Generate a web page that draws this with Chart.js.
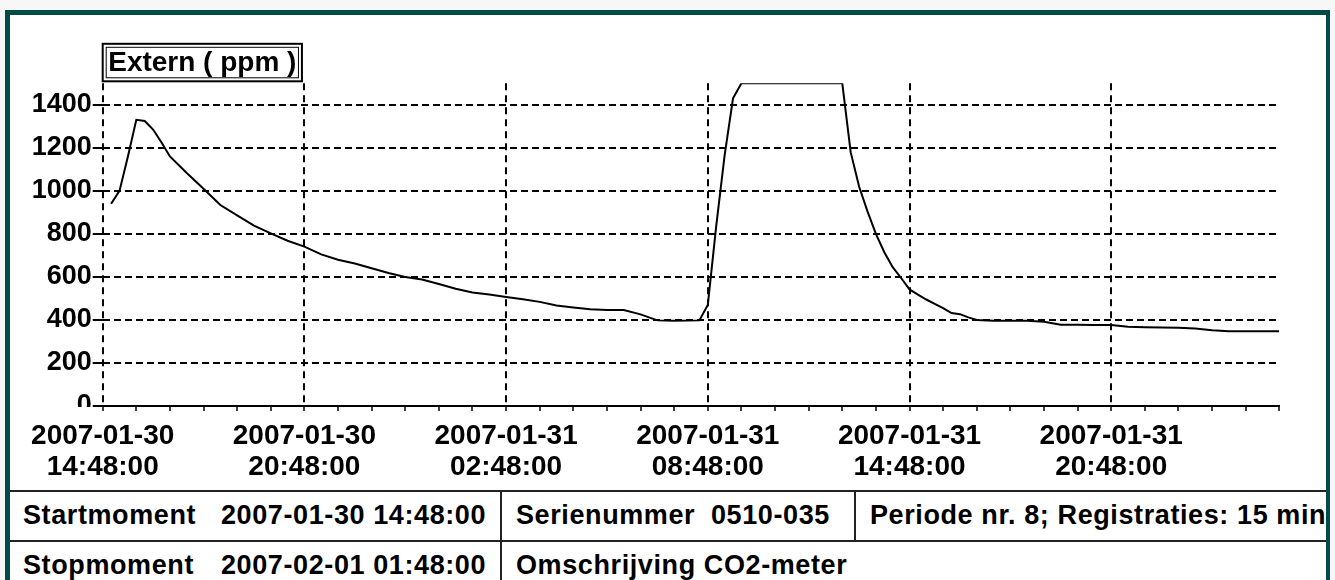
<!DOCTYPE html>
<html>
<head>
<meta charset="utf-8">
<script src="https://cdn.jsdelivr.net/npm/chart.js@4.4.1/dist/chart.umd.min.js"></script>
<style>
  html, body { margin:0; padding:0; width:1335px; height:580px; overflow:hidden; background:#f7f7f7;
    font-family:"Liberation Sans", Arial, sans-serif; }
  #frame { position:absolute; left:5px; top:10px; width:1316px; height:600px; background:#fff;
    border-left:5px solid #004b48; border-top:5px solid #004b48; border-right:4px solid #004b48; overflow:hidden; }
  #chart { position:absolute; left:0; top:0; }
  .hl { position:absolute; left:0; width:1316px; height:2px; background:#222; }
  .vl { position:absolute; width:2px; background:#222; }
  .t { position:absolute; font-weight:bold; font-size:27px; line-height:27px; white-space:pre; color:#000; letter-spacing:0.6px; }
</style>
</head>
<body>
<div id="frame">
  <canvas id="chart" width="1316" height="475"></canvas>
  <div class="hl" style="top:475px"></div>
  <div class="hl" style="top:525px"></div>
  <div class="vl" style="left:490px; top:475px; height:120px"></div>
  <div class="vl" style="left:844px; top:475px; height:51px"></div>
  <div class="t" id="c1" style="left:13px; top:487px"></div>
  <div class="t" id="c1v" style="left:211px; top:487px"></div>
  <div class="t" id="c2" style="left:506px; top:487px"></div>
  <div class="t" id="c2v" style="left:701px; top:487px"></div>
  <div class="t" id="c3" style="left:860px; top:487px"></div>
  <div class="t" id="c4" style="left:13px; top:537px"></div>
  <div class="t" id="c4v" style="left:211px; top:537px"></div>
  <div class="t" id="c5" style="left:506px; top:537px"></div>
</div>
<script>
// ---- data ----
const hours = [0.25,0.5,0.75,1,1.25,1.5,1.75,2,2.5,3,3.5,4,4.5,5,5.5,6,6.5,7,7.5,8,8.5,9,9.5,10,10.5,11,11.5,12,12.5,13,13.5,14,14.5,15,15.5,16,16.5,17,17.75,18,18.25,18.5,18.75,19,20,21,22,22.25,22.5,22.75,23,23.25,23.5,23.75,24,24.25,24.5,24.75,25,25.25,25.5,25.75,26,26.5,27,27.5,28,28.5,29,29.5,30,30.5,31,31.5,32,32.5,33,33.5,34,34.5,35];
const externPpm = [940,1000,1160,1330,1325,1285,1225,1160,1083,1010,934,886,838,802,768,741,705,680,662,640,618,600,588,567,545,528,518,507,496,484,467,458,450,446,446,426,398,396,398,470,836,1165,1430,1500,1500,1500,1500,1180,1020,905,800,715,645,595,542,518,495,475,455,432,427,412,400,396,396,396,392,378,378,377,376,368,366,365,364,360,352,348,348,348,348];
const hourTicks = [0,1,2,3,4,5,6,7,8,9,10,11,12,13,14,15,16,17,18,19,20,21,22,23,24,25,26,27,28,29,30,31,32,33,34,35];
const labelHours = [0,6,12,18,24,30];
const labelDates = ['2007-01-30','2007-01-30','2007-01-31','2007-01-31','2007-01-31','2007-01-31'];
const labelTimes = ['14:48:00','20:48:00','02:48:00','08:48:00','14:48:00','20:48:00'];
const yTicks = [0,200,400,600,800,1000,1200,1400];
const yTitle = 'Extern ( ppm )';
const infoLabels = ['Startmoment','Serienummer','Periode nr. 8; Registraties: 15 min','Stopmoment','Omschrijving CO2-meter'];
const infoValues = ['2007-01-30 14:48:00','0510-035','2007-02-01 01:48:00'];

document.getElementById('c1').textContent = infoLabels[0];
document.getElementById('c1v').textContent = infoValues[0];
document.getElementById('c2').textContent = infoLabels[1];
document.getElementById('c2v').textContent = infoValues[1];
document.getElementById('c3').textContent = infoLabels[2];
document.getElementById('c4').textContent = infoLabels[3];
document.getElementById('c4v').textContent = infoValues[2];
document.getElementById('c5').textContent = infoLabels[4];

const FONT = '"Liberation Sans", Arial, sans-serif';

const titleBox = {
  id: 'titleBox',
  afterDraw(chart) {
    const { ctx, chartArea } = chart;
    ctx.save();
    // the original clips the lower half of the "0" label
    ctx.fillStyle = '#fff';
    ctx.fillRect(0, chartArea.bottom + 1, chartArea.left - 11, 13);
    ctx.font = 'bold 28px ' + FONT;
    const tw = ctx.measureText(yTitle).width;
    const bx = chartArea.left, by = chartArea.top - 39.5, bw = tw + 11, bh = 37.5;
    ctx.strokeStyle = '#000';
    ctx.lineWidth = 2;
    ctx.strokeRect(bx, by, bw, bh);
    ctx.lineWidth = 1;
    ctx.strokeRect(bx + 3.5, by + 3.5, bw - 7, bh - 7);
    ctx.fillStyle = '#000';
    ctx.textBaseline = 'alphabetic';
    ctx.fillText(yTitle, bx + 5.5, by + 27.5);
    ctx.restore();
  }
};

new Chart(document.getElementById('chart'), {
  type: 'line',
  data: {
    datasets: [{
      data: hours.map((h, i) => ({ x: h, y: externPpm[i] })),
      borderColor: '#000', borderWidth: 2, pointRadius: 0, tension: 0, fill: false
    }]
  },
  options: {
    responsive: false, animation: false, devicePixelRatio: 1,
    layout: { padding: { top: 68.3, right: 46.7, left: 0, bottom: 0 } },
    plugins: { legend: { display: false }, tooltip: { enabled: false }, title: { display: false } },
    scales: {
      x: {
        type: 'linear', min: 0, max: 35,
        afterBuildTicks: s => { s.ticks = hourTicks.map(v => ({ value: v })); },
        afterFit: s => { s.height = 84; },
        ticks: {
          autoSkip: false, maxRotation: 0, minRotation: 0, color: '#000', padding: 10,
          font: { family: FONT, size: 28, weight: 'bold', lineHeight: 1.1 },
          callback: v => { const k = labelHours.indexOf(v); return k < 0 ? '' : [labelDates[k], labelTimes[k]]; }
        },
        grid: {
          color: c => (c.tick && labelHours.includes(c.tick.value)) ? '#000' : 'rgba(0,0,0,0)',
          lineWidth: 2, tickColor: '#000', tickLength: 5, tickWidth: 1.5
        },
        border: { display: true, color: '#000', width: 2, dash: [7, 5] }
      },
      y: {
        min: 0, max: 1500,
        afterBuildTicks: s => { s.ticks = yTicks.map(v => ({ value: v })); },
        afterFit: s => { s.width = 92.7; },
        ticks: { color: '#000', padding: 1, font: { family: FONT, size: 27, weight: 'bold' },
          callback: v => String(v) },
        grid: { color: '#000', lineWidth: 2, tickColor: '#000', tickLength: 10, tickWidth: 2 },
        border: { display: false, dash: [7, 4] }
      }
    }
  },
  plugins: [titleBox]
});
</script>
</body>
</html>
